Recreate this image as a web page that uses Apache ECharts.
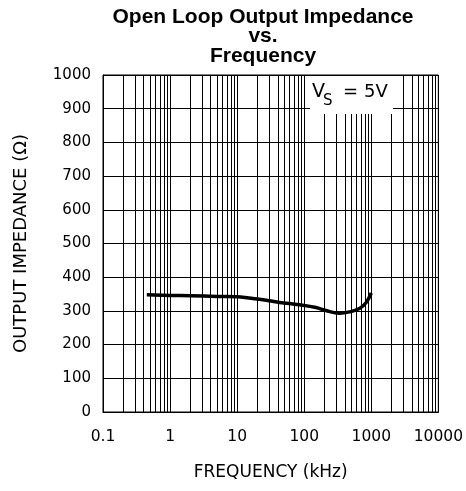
<!DOCTYPE html>
<html>
<head>
<meta charset="utf-8">
<script src="https://cdn.jsdelivr.net/npm/echarts@6/dist/echarts.min.js"></script>
<style>
  html, body { margin: 0; padding: 0; background: #fff; }
  #chart { width: 466px; height: 491px; }
</style>
</head>
<body>
<div id="chart"></div>
<script>
// Open-loop output impedance (ohms) against frequency (kHz), VS = 5V
const frequencyKHz = [0.45, 1, 2, 5, 10, 15, 20, 30, 43, 85, 150, 210, 336, 474, 667, 840, 1000];
const impedanceOhm = [348, 346, 345, 343, 342, 338, 335, 330, 325, 318, 310, 301, 293, 297, 307, 325, 353];

const xTickLabels = ['0.1', '1', '10', '100', '1000', '10000'];
const yTickLabels = ['0', '100', '200', '300', '400', '500', '600', '700', '800', '900', '1000'];

const titleLines = ['Open Loop Output Impedance', 'vs.', 'Frequency'];
const xAxisName = 'FREQUENCY (kHz)';
const yAxisName = 'OUTPUT IMPEDANCE (\u03A9)';

// in-between log gridlines: 2..9 of every decade
const decades = [0.1, 1, 10, 100, 1000];
const minorGrid = [];
decades.forEach(d => { for (let m = 2; m <= 9; m++) minorGrid.push(+(d * m).toPrecision(3)); });

const yMin = 0, yMax = 1000;
const axisFont = 'DejaVu Sans';
const chart = echarts.init(document.getElementById('chart'), null, { renderer: 'canvas' });

// one crisp vertical gridline per item, placed through the axes
function renderMinorLine(params, api) {
  const top = api.coord([api.value(0), yMax]);
  const bottom = api.coord([api.value(0), yMin]);
  const x = Math.round(top[0]) + 0.5;
  return {
    type: 'line',
    shape: { x1: x, y1: top[1], x2: x, y2: bottom[1] },
    style: { stroke: '#000', lineWidth: 1 },
    silent: true
  };
}

chart.setOption({
  animation: false,
  backgroundColor: '#fff',
  grid: { left: 103, right: 27, top: 75, bottom: 79, show: true, borderColor: '#000', borderWidth: 1 },
  xAxis: {
    type: 'log',
    logBase: 10,
    min: 0.1,
    max: 10000,
    name: xAxisName,
    nameLocation: 'middle',
    nameGap: 52,
    nameTextStyle: { fontFamily: axisFont, fontSize: 17, color: '#000' },
    axisLine: { show: true, lineStyle: { color: '#000', width: 1 } },
    axisTick: { show: false },
    axisLabel: {
      fontFamily: axisFont, fontSize: 15.5, color: '#000', margin: 17,
      formatter: v => {
        const i = Math.round(Math.log10(v)) + 1;
        return xTickLabels[i] !== undefined ? xTickLabels[i] : '';
      }
    },
    splitLine: { show: true, lineStyle: { color: '#000', width: 1 } }
  },
  yAxis: {
    type: 'value',
    min: yMin,
    max: yMax,
    interval: 100,
    name: yAxisName,
    nameLocation: 'middle',
    nameGap: 73,
    nameTextStyle: { fontFamily: axisFont, fontSize: 18, color: '#000' },
    axisLine: { show: true, lineStyle: { color: '#000', width: 1 } },
    axisTick: { show: false },
    axisLabel: {
      fontFamily: axisFont, fontSize: 15, color: '#000', margin: 12,
      formatter: v => yTickLabels[Math.round(v / 100)]
    },
    splitLine: { show: true, lineStyle: { color: '#000', width: 1 } }
  },
  series: [
    {
      type: 'custom',
      silent: true,
      clip: true,
      renderItem: renderMinorLine,
      data: minorGrid.map(v => [v, yMin]),
      z: 1
    },
    {
      type: 'line',
      data: frequencyKHz.map((f, i) => [f, impedanceOhm[i]]),
      smooth: 0.4,
      symbol: 'none',
      lineStyle: { color: '#000', width: 3.5 },
      z: 5
    }
  ],
  graphic: [
    {
      type: 'text',
      x: 263, y: 7,
      z: 100,
      style: {
        text: titleLines.join('\n'),
        align: 'center',
        verticalAlign: 'top',
        fontFamily: 'Liberation Sans, Arial, sans-serif',
        fontWeight: 'bold',
        fontSize: 21,
        lineHeight: 19.5,
        fill: '#000'
      }
    },
    {
      type: 'rect',
      z: 100,
      shape: { x: 310, y: 76, width: 83, height: 38 },
      style: { fill: '#fff', stroke: null }
    },
    {
      type: 'text', z: 101, x: 312, y: 92.5,
      style: { text: 'V', fontFamily: axisFont, fontSize: 19, fill: '#000', verticalAlign: 'middle' }
    },
    {
      type: 'text', z: 101, x: 323, y: 101,
      style: { text: 'S', fontFamily: axisFont, fontSize: 15, fill: '#000', verticalAlign: 'middle' }
    },
    {
      type: 'text', z: 101, x: 343, y: 92.5,
      style: { text: '=', fontFamily: axisFont, fontSize: 18, fill: '#000', verticalAlign: 'middle' }
    },
    {
      type: 'text', z: 101, x: 364, y: 92.5,
      style: { text: '5V', fontFamily: axisFont, fontSize: 18, fill: '#000', verticalAlign: 'middle' }
    }
  ]
});
</script>
</body>
</html>
